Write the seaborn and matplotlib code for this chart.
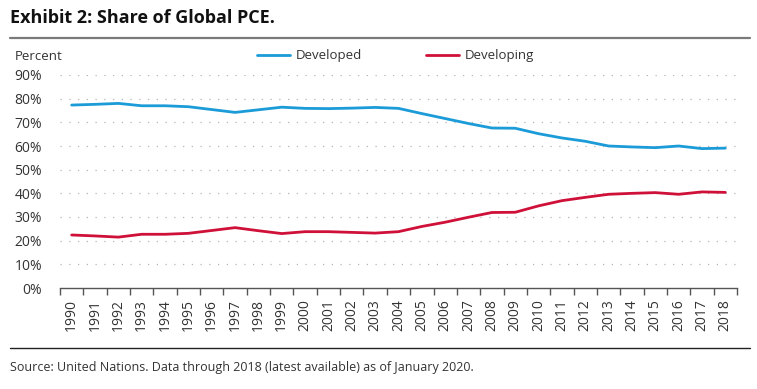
import pandas as pd
import numpy as np
import matplotlib
matplotlib.use('Agg')
import matplotlib.pyplot as plt
from matplotlib.lines import Line2D
from matplotlib.ticker import FixedLocator, FuncFormatter
import seaborn as sns

# Data (share of global PCE, percent)
years = list(range(1990, 2019))
developed = [77.3, 77.6, 78.0, 77.0, 77.0, 76.6, 75.4, 74.2, 75.3, 76.4,
             75.9, 75.8, 76.0, 76.3, 75.9, 73.7, 71.6, 69.5, 67.6, 67.5,
             65.2, 63.4, 62.0, 60.0, 59.6, 59.3, 60.0, 58.9, 59.1]
developing = [22.4, 22.0, 21.5, 22.7, 22.7, 23.1, 24.3, 25.5, 24.2, 23.0,
              23.8, 23.8, 23.5, 23.2, 23.8, 26.0, 27.8, 29.9, 31.9, 32.0,
              34.7, 36.9, 38.3, 39.6, 40.0, 40.3, 39.6, 40.6, 40.4]
series_names = ['Developed', 'Developing']
colors = ['#1b9bd7', '#cf1039']

df = pd.DataFrame({'year': years * 2,
                   'share': developed + developing,
                   'series': [series_names[0]] * len(years) + [series_names[1]] * len(years)})
df['pos'] = df['year'] - years[0]

sns.set_style('white')
plt.rcParams['font.family'] = ['Open Sans', 'DejaVu Sans']
text_color = '#333333'

W, H = 757, 389
fig = plt.figure(figsize=(W / 100, H / 100), dpi=100)
ax = fig.add_axes([60 / W, 1 - 288 / H, 677 / W, 213 / H])

sns.lineplot(data=df, x='pos', y='share', hue='series', palette=colors,
             linewidth=2, ax=ax, legend=False)

ax.set_xlim(-0.5, len(years) - 0.5)
ax.set_ylim(0, 90)
ax.set_xlabel('')
ax.set_ylabel('')

# gridlines
for v in range(10, 100, 10):
    ax.axhline(v, color='#b5b5b5', lw=0.9, ls=(0, (1, 6)), zorder=0)

for s in ['top', 'right', 'left']:
    ax.spines[s].set_visible(False)
ax.spines['bottom'].set_color('#555555')
ax.spines['bottom'].set_linewidth(1)

ax.set_yticks(range(0, 100, 10))
ax.yaxis.set_major_formatter(FuncFormatter(lambda v, p: f'{int(v)}%'))
ax.tick_params(axis='y', length=0, pad=13, labelsize=10, labelcolor=text_color)

ax.set_xticks(range(len(years)))
ax.set_xticklabels([str(y) for y in years], rotation=90)
ax.xaxis.set_minor_locator(FixedLocator(np.arange(-0.5, len(years), 1)))
ax.tick_params(axis='x', which='major', length=0, pad=8, labelsize=10, labelcolor=text_color)
ax.tick_params(axis='x', which='minor', length=5, width=1, color='#555555', direction='out', bottom=True)

# legend
handles = [Line2D([0], [0], color=c, lw=2) for c in colors]
fig.legend(handles, series_names, loc='center left', bbox_to_anchor=(257 / W, 1 - 56 / H),
           ncol=2, frameon=False, fontsize=9.5, handlelength=2.5, handletextpad=0.4,
           columnspacing=4.9, borderpad=0, borderaxespad=0, labelcolor=text_color)

fig.text(15 / W, 1 - 56 / H, 'Percent', fontsize=9.5, color=text_color, va='center', ha='left')

# title, rules and source
fig.text(10 / W, 1 - 18 / H, 'Exhibit 2: Share of Global PCE.', fontsize=13, fontweight='bold',
         color='#111111', va='center', ha='left')
fig.add_artist(Line2D([10 / W, 750 / W], [1 - 38 / H, 1 - 38 / H], color='#7a7a7a', lw=1.6))
fig.add_artist(Line2D([10 / W, 750 / W], [1 - 348 / H, 1 - 348 / H], color='#222222', lw=1))
fig.text(10 / W, 1 - 367 / H, 'Source: United Nations. Data through 2018 (latest available) as of January 2020.',
         fontsize=9, color=text_color, va='center', ha='left')

fig.savefig('out.png', dpi=100)
